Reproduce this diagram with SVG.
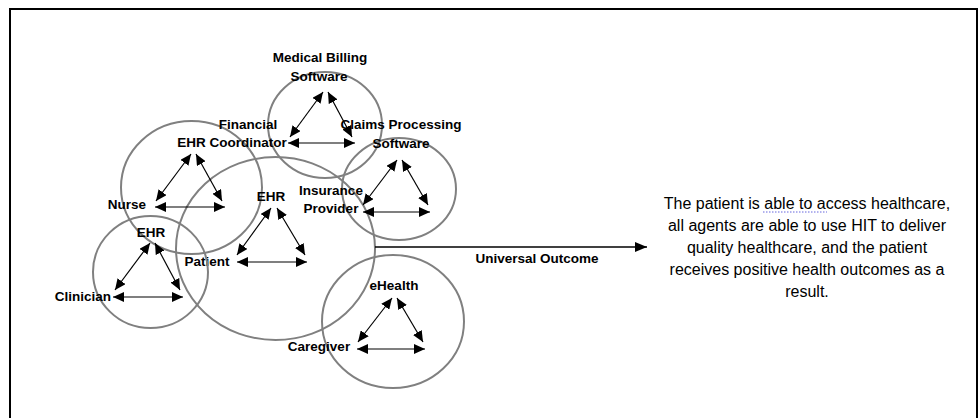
<svg xmlns="http://www.w3.org/2000/svg" width="980" height="418" viewBox="0 0 980 418">
<style>
.ring{fill:none;stroke:#808080;stroke-width:2}
.lbl{font-family:"Liberation Sans",Arial,sans-serif;font-weight:bold;font-size:13.5px;fill:#000;text-anchor:middle}
.body{font-family:"Liberation Sans",Arial,sans-serif;font-size:16px;fill:#000;text-anchor:middle}
.tl{stroke:#000;stroke-width:1.2;fill:none;marker-start:url(#ah);marker-end:url(#ah)}
</style>
<defs>
<marker id="ah" markerUnits="userSpaceOnUse" markerWidth="11" markerHeight="10" refX="11" refY="5" orient="auto-start-reverse">
<path d="M0,0 L11,5 L0,10 z" fill="#000"/>
</marker>
<marker id="ah2" markerUnits="userSpaceOnUse" markerWidth="12" markerHeight="10" refX="12" refY="5" orient="auto">
<path d="M0,0 L12,5 L0,10 z" fill="#000"/>
</marker>
</defs>
<rect x="0" y="0" width="980" height="418" fill="#fff"/>
<rect x="10" y="9" width="967" height="420" fill="none" stroke="#000" stroke-width="2"/>

<g id="billing">
<ellipse class="ring" cx="325" cy="125" rx="57" ry="53"/>
<text class="lbl" x="320" y="62">Medical Billing</text>
<text class="lbl" x="319" y="81">Software</text>
</g>
<g id="claims">
<ellipse class="ring" cx="399" cy="189" rx="57" ry="51"/>
<text class="lbl" x="401" y="129">Claims Processing</text>
<text class="lbl" x="401" y="148">Software</text>
</g>
<g id="nurse">
<ellipse class="ring" cx="191.5" cy="187.5" rx="70.5" ry="66.5"/>
<text class="lbl" x="248" y="129">Financial</text>
<text class="lbl" x="232" y="147">EHR Coordinator</text>
<text class="lbl" x="127" y="209">Nurse</text>
</g>
<g id="patient">
<ellipse class="ring" cx="275.5" cy="248.5" rx="99.5" ry="91.5"/>
<text class="lbl" x="271" y="201">EHR</text>
<text class="lbl" x="331" y="195">Insurance</text>
<text class="lbl" x="331" y="213">Provider</text>
<text class="lbl" x="207" y="266">Patient</text>
</g>
<g id="clinician">
<ellipse class="ring" cx="150.5" cy="272" rx="57.5" ry="56"/>
<text class="lbl" x="151" y="237">EHR</text>
<text class="lbl" x="83" y="301">Clinician</text>
</g>
<g id="ehealth">
<ellipse class="ring" cx="393" cy="321.5" rx="71" ry="66.5"/>
<text class="lbl" x="394" y="290">eHealth</text>
<text class="lbl" x="319" y="351">Caregiver</text>
</g>
<g id="outcome">
<text class="body" x="807" y="209">The patient is able to access healthcare,</text>
<line x1="763" y1="212" x2="827" y2="212" stroke="#6666dd" stroke-width="1" stroke-dasharray="1.5,1.5"/>
<text class="body" x="807" y="231">all agents are able to use HIT to deliver</text>
<text class="body" x="807" y="253">quality healthcare, and the patient</text>
<text class="body" x="807" y="275">receives positive health outcomes as a</text>
<text class="body" x="807" y="297">result.</text>
</g>

<g id="connectors">
<line class="tl" x1="191" y1="154" x2="156" y2="201"/>
<line class="tl" x1="196" y1="154" x2="222" y2="201"/>
<line class="tl" x1="155" y1="207" x2="225" y2="207"/>
<line class="tl" x1="271" y1="208" x2="237" y2="255"/>
<line class="tl" x1="277" y1="208" x2="305" y2="255"/>
<line class="tl" x1="237" y1="262" x2="307" y2="262"/>
<line class="tl" x1="150" y1="243" x2="115" y2="290"/>
<line class="tl" x1="155" y1="243" x2="180" y2="290"/>
<line class="tl" x1="113" y1="297" x2="183" y2="297"/>
<line class="tl" x1="323" y1="92" x2="290" y2="137"/>
<line class="tl" x1="328" y1="92" x2="352" y2="137"/>
<line class="tl" x1="288" y1="143" x2="355" y2="143"/>
<line class="tl" x1="397" y1="160" x2="363" y2="205"/>
<line class="tl" x1="402" y1="160" x2="428" y2="205"/>
<line class="tl" x1="363" y1="212" x2="430" y2="212"/>
<line class="tl" x1="392" y1="298" x2="358" y2="342"/>
<line class="tl" x1="397" y1="298" x2="423" y2="342"/>
<line class="tl" x1="357" y1="349" x2="425" y2="349"/>
<line x1="375" y1="247" x2="647" y2="247" stroke="#000" stroke-width="1.5" marker-end="url(#ah2)"/>
<text class="lbl" x="537" y="263">Universal Outcome</text>
</g>
</svg>
